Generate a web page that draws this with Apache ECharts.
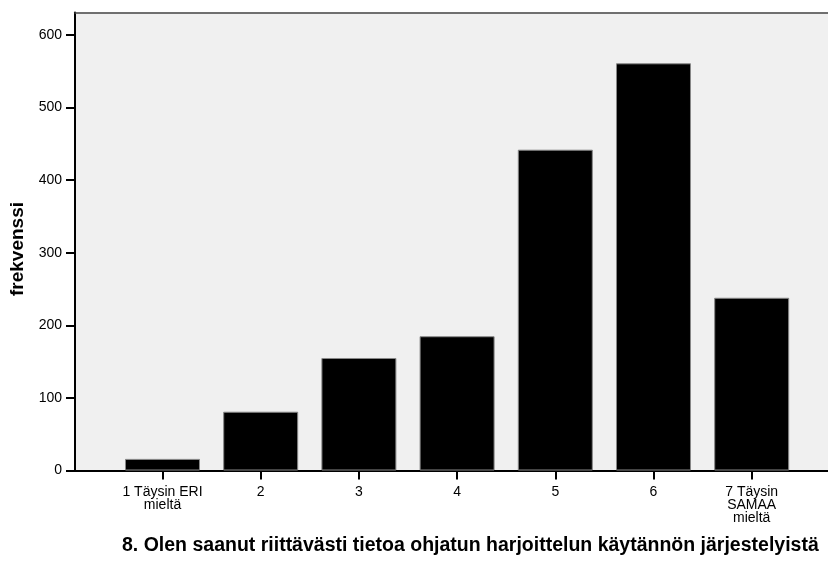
<!DOCTYPE html>
<html>
<head>
<meta charset="utf-8">
<script src="https://cdn.jsdelivr.net/npm/echarts@6/dist/echarts.min.js"></script>
<style>html,body{margin:0;padding:0;background:#fff}#c{width:828px;height:562px}</style>
</head>
<body>
<div id="c"></div>
<script>
var categories = ['1 Täysin ERI\nmieltä', '2', '3', '4', '5', '6', '7 Täysin\nSAMAA\nmieltä'];
var values = [16, 81, 155, 185, 442, 561, 238];
var yTicks = [0, 100, 200, 300, 400, 500, 600];
var xTitle = '8. Olen saanut riittävästi tietoa ohjatun harjoittelun käytännön järjestelyistä';
var yTitle = 'frekvenssi';

var positions = categories.map(function (c, i) { return i + 1; });
var barData = values.map(function (v, i) { return [positions[i], v]; });

var chart = echarts.init(document.getElementById('c'), null, {renderer: 'canvas'});
var font = 'Liberation Sans, Arial, sans-serif';
chart.setOption({
  animation: false,
  backgroundColor: '#ffffff',
  textStyle: {fontFamily: font},
  grid: {left: 75, right: 0, top: 12.5, bottom: 91.5, show: true, backgroundColor: '#f0f0f0', borderWidth: 0},
  title: {
    text: xTitle, left: 117, top: 531,
    textStyle: {fontFamily: font, fontSize: 19.5, fontWeight: 'bold', color: '#000'}
  },
  graphic: [{
    type: 'text', x: 18, y: 249, rotation: Math.PI / 2,
    style: {text: yTitle, font: 'bold 19px ' + font, fill: '#000', align: 'center', verticalAlign: 'middle'}
  }],
  xAxis: [{
    type: 'value', min: 0.109, max: 7.777,
    splitLine: {show: false},
    axisLine: {show: true, onZero: false, lineStyle: {color: '#000', width: 2}},
    axisTick: {show: true, customValues: positions, length: 9, lineStyle: {color: '#000', width: 2}},
    axisLabel: {
      customValues: positions, margin: 15, color: '#000', fontSize: 14, lineHeight: 13,
      formatter: function (v) { return categories[Math.round(v) - 1] || ''; }
    }
  }, {
    type: 'value', position: 'top', min: 0.109, max: 7.777,
    splitLine: {show: false},
    axisLine: {show: true, onZero: false, lineStyle: {color: '#444', width: 1.5}},
    axisTick: {show: false}, axisLabel: {show: false}
  }],
  yAxis: {
    type: 'value', min: 0, max: 631,
    splitLine: {show: false},
    axisLine: {show: true, lineStyle: {color: '#000', width: 2}},
    axisTick: {show: true, customValues: yTicks, length: 9, lineStyle: {color: '#000', width: 2}},
    axisLabel: {customValues: yTicks, margin: 13, color: '#000', fontSize: 14}
  },
  series: [{
    type: 'bar', data: barData, barWidth: 75,
    itemStyle: {color: '#000', borderColor: '#888', borderWidth: 1}
  }]
});
</script>
</body>
</html>
